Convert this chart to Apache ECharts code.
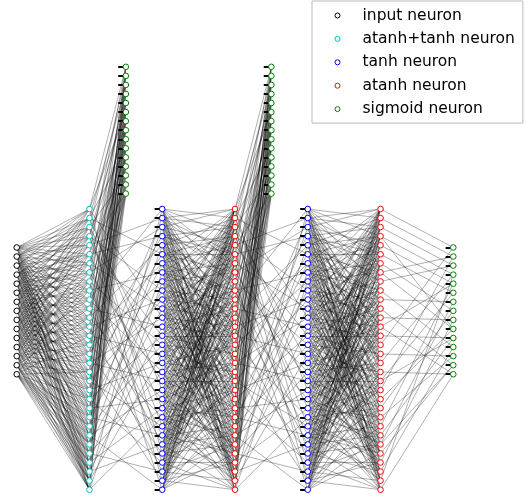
<!DOCTYPE html>
<html><head><meta charset="utf-8">
<script src="https://cdn.jsdelivr.net/npm/echarts@6.0.0/dist/echarts.min.js"></script>
<style>html,body{margin:0;padding:0;background:#fff}#chart{width:528px;height:496px}</style>
</head><body><div id="chart"></div>
<script>
// ---------------- data ----------------
const layerSizes = [15, 32, 15, 32, 32, 15, 32, 32, 15];
const layerKinds = ['input neuron', 'atanh+tanh neuron', 'sigmoid neuron', 'tanh neuron',
  'atanh neuron', 'sigmoid neuron', 'tanh neuron', 'atanh neuron', 'sigmoid neuron'];
const legendOrder = ['input neuron', 'atanh+tanh neuron', 'tanh neuron', 'atanh neuron', 'sigmoid neuron'];
const stubLayers = [2, 3, 5, 6, 8];

// input -> atanh+tanh : targets of each input neuron
const inputTargets = [
  [0, 1, 2, 3, 4, 5, 6, 7, 9, 11, 13, 16, 19, 22, 26, 30],
  [0, 1, 2, 4, 6, 8, 10, 12, 14, 17, 20, 23, 25, 28, 31],
  [0, 1, 3, 5, 7, 9, 11, 13, 15, 18, 21, 24, 27, 29],
  [1, 2, 3, 5, 6, 8, 10, 12, 14, 16, 19, 22, 25, 28, 30],
  [0, 2, 4, 6, 7, 9, 11, 13, 15, 17, 20, 23, 26, 29, 31],
  [1, 3, 5, 7, 8, 10, 12, 14, 16, 18, 21, 24, 27, 30],
  [0, 2, 4, 6, 9, 11, 13, 15, 17, 19, 22, 25, 28, 31],
  [1, 3, 5, 7, 8, 10, 12, 14, 16, 18, 20, 23, 26, 29, 31],
  [2, 4, 6, 9, 11, 13, 15, 17, 19, 21, 24, 27, 30],
  [0, 3, 5, 8, 10, 12, 14, 16, 18, 20, 22, 25, 28, 31],
  [1, 4, 7, 9, 11, 13, 15, 17, 19, 21, 23, 26, 29, 30],
  [2, 6, 8, 10, 12, 14, 16, 18, 20, 22, 24, 27, 29, 31],
  [3, 7, 11, 13, 15, 17, 19, 21, 23, 25, 26, 28, 30, 31],
  [5, 9, 12, 16, 18, 20, 22, 24, 26, 27, 28, 29, 30, 31],
  [8, 14, 18, 21, 23, 24, 25, 26, 27, 28, 29, 30, 31]
];
// 32 -> 15 hidden-to-sigmoid pattern (atanh+tanh -> sigmoid, atanh -> sigmoid)
const hiddenSigmoidTargets = [[0, 5], [2, 9], [1, 12], [4, 7], [3, 14], [0, 10], [6, 11], [2, 8],
  [5, 13], [1, 9], [4, 12], [7, 14], [3, 10], [0, 6], [8, 11], [2, 13], [5, 9], [1, 14], [4, 7],
  [3, 12], [6, 10], [0, 11], [8, 13], [2, 5], [9, 14], [1, 7], [4, 10], [3, 6], [11, 12], [0, 13],
  [8, 14], [5, 9]];
// last atanh -> output sigmoid
const outputTargets = [[0], [1], [2], [3, 9], [4], [5], [7], [9, 1], [2], [11], [6], [13], [8],
  [14, 4], [10], [0], [12], [3], [14], [5, 10], [1], [9], [7], [12], [4], [10], [6, 13], [13],
  [8], [11], [3], [14]];
// 32 -> 32 pattern (atanh+tanh -> tanh, atanh -> tanh)
const recurrentTargets = [
  [12, 27], [5, 20], [17, 30], [9, 24], [1, 14], [22, 3], [28, 11], [2, 19],
  [15, 31], [7, 25], [0, 18], [26, 13], [4, 21], [29, 10], [16, 6], [23, 8],
  [3, 27], [19, 12], [30, 5], [10, 24], [1, 17], [28, 14], [6, 21], [25, 9],
  [2, 15], [31, 20], [11, 4], [18, 29], [7, 22], [13, 26], [0, 16], [23, 8]
];
// tanh -> atanh pattern
const tanhTargets = [
  [3, 9, 14, 20, 26, 1, 30, 6, 17], [0, 7, 12, 18, 23, 28, 5, 2, 15], [4, 11, 16, 21, 27, 31, 8, 0, 13],
  [2, 6, 13, 19, 24, 29, 10, 5, 17], [1, 8, 15, 22, 25, 30, 17, 3, 11], [5, 10, 14, 19, 26, 31, 3, 7, 22],
  [0, 9, 12, 20, 23, 27, 16, 4, 30], [6, 11, 17, 21, 28, 2, 24, 9, 14], [3, 7, 13, 18, 25, 29, 15, 0, 21],
  [1, 10, 16, 22, 26, 4, 30, 12, 19], [2, 8, 14, 19, 24, 31, 11, 6, 27], [5, 12, 17, 23, 27, 0, 20, 9, 29],
  [4, 9, 15, 21, 28, 6, 13, 1, 24], [3, 11, 18, 25, 30, 7, 22, 14, 0], [0, 6, 14, 20, 26, 10, 29, 16, 3],
  [2, 9, 16, 23, 31, 12, 19, 5, 27], [1, 7, 13, 21, 27, 5, 24, 18, 10], [4, 10, 18, 22, 29, 15, 8, 25, 0],
  [6, 12, 17, 25, 30, 3, 20, 11, 28], [0, 8, 15, 19, 28, 11, 26, 2, 22], [2, 5, 14, 23, 27, 9, 31, 17, 12],
  [3, 11, 16, 24, 29, 1, 18, 7, 26], [7, 13, 20, 26, 31, 4, 12, 0, 23], [1, 9, 17, 22, 28, 6, 25, 14, 30],
  [0, 10, 15, 21, 30, 14, 5, 19, 27], [3, 8, 18, 24, 27, 12, 29, 1, 20], [2, 6, 16, 20, 25, 10, 31, 13, 4],
  [4, 11, 13, 22, 29, 0, 17, 8, 26], [5, 9, 19, 23, 28, 15, 2, 12, 31], [1, 7, 14, 26, 30, 21, 11, 3, 18],
  [3, 12, 18, 24, 31, 8, 16, 6, 28], [0, 6, 10, 19, 27, 13, 22, 2, 25]
];
// [fromLayer, toLayer, pattern]
const connections = [
  [0, 1, inputTargets], [1, 2, hiddenSigmoidTargets], [1, 3, recurrentTargets], [3, 4, tanhTargets],
  [4, 5, hiddenSigmoidTargets], [4, 6, recurrentTargets], [6, 7, tanhTargets], [7, 8, outputTargets]
];

// ---------------- layout / style ----------------
const layerColumn = [0, 2, 3, 4, 6, 7, 8, 10, 12];
const layerFirstRow = [4.25, 0, -15.7, 0, 0, -15.7, 0, 0, 4.25];
const kindColor = {
  'input neuron': '#000000', 'atanh+tanh neuron': '#00bfbf', 'tanh neuron': '#0000ff',
  'atanh neuron': '#ff0000', 'sigmoid neuron': '#008000'
};
const stubLen = 0.21;

function pos(layer, j) { return [layerColumn[layer], layerFirstRow[layer] + j]; }

const linkData = [];
connections.forEach(([a, b, pattern]) => {
  pattern.forEach((ts, i) => ts.forEach(j => linkData.push({ coords: [pos(a, i), pos(b, j)] })));
});

const stubData = [];
stubLayers.forEach(l => {
  for (let j = 0; j < layerSizes[l]; j++) {
    const p = pos(l, j);
    stubData.push({ coords: [[p[0] - stubLen, p[1]], p] });
  }
});

const nodeSeries = legendOrder.map(kind => {
  const data = [];
  layerKinds.forEach((k, l) => {
    if (k !== kind) return;
    for (let j = 0; j < layerSizes[l]; j++) data.push(pos(l, j));
  });
  return {
    type: 'scatter', name: kind, data, symbol: 'circle', symbolSize: 5.6, clip: false, z: 5,
    itemStyle: { color: '#ffffff', borderColor: kindColor[kind], borderWidth: 1, opacity: 1 },
    emphasis: { disabled: true }, silent: true
  };
});

const chart = echarts.init(document.getElementById('chart'), null, { renderer: 'canvas' });
chart.setOption({
  animation: false,
  backgroundColor: '#ffffff',
  grid: { left: 16.7, top: 64.1, width: 436.6, height: 425.6, containLabel: false },
  xAxis: { type: 'value', min: 0, max: 12, show: false },
  yAxis: { type: 'value', min: -16, max: 31, inverse: true, show: false },
  legend: {
    orient: 'vertical', left: 312, top: 1, padding: [6.5, 8, 6, 22.5],
    itemWidth: 5, itemHeight: 5, itemGap: 7.4,
    backgroundColor: '#ffffff', borderColor: '#bbbbbb', borderWidth: 1, borderRadius: 0,
    textStyle: { fontFamily: 'DejaVu Sans', fontSize: 15.5, color: '#000000', padding: [0, 0, 0, 17.5] },
    selectedMode: false,
    data: legendOrder.map(k => ({ name: k, icon: 'circle',
      itemStyle: { color: '#ffffff', borderColor: kindColor[k], borderWidth: 1 } }))
  },
  series: [
    { type: 'lines', coordinateSystem: 'cartesian2d', data: linkData, large: false, silent: true, z: 1,
      lineStyle: { color: '#000000', width: 0.5, opacity: 0.62 }, symbol: 'none', clip: false },
    { type: 'lines', coordinateSystem: 'cartesian2d', data: stubData, silent: true, z: 2,
      lineStyle: { color: '#000000', width: 2, opacity: 1 }, symbol: 'none', clip: false }
  ].concat(nodeSeries)
});
</script></body></html>
